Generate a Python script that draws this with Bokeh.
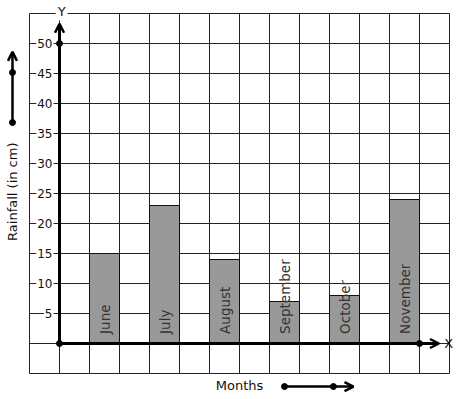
import math
from bokeh.plotting import figure
from bokeh.models import Range1d, Arrow, OpenHead, ColumnDataSource
from bokeh.core.properties import value
from bokeh.embed import file_html
from bokeh.resources import INLINE

# ---- data ----
months = ["June", "July", "August", "September", "October", "November"]
rainfall = [15, 23, 14, 7, 8, 24]
ytick_values = [5, 10, 15, 20, 25, 30, 35, 40, 45, 50]
ytick_labels = ["5", "10", "15", "20", "25", "30", "35", "40", "45", "50"]
grid_x = list(range(-1, 14))          # vertical grid lines (one unit per column)
grid_y = list(range(-5, 56, 5))       # horizontal grid lines (cm)

W, H = 457, 399
X0, Y0 = 59.0, 343.0                  # pixel position of the origin
FONT = value("DejaVu Sans")

p = figure(width=W, height=H, output_backend="svg", toolbar_location=None,
           x_range=Range1d(-X0 / 30.0, (W - X0) / 30.0),
           y_range=Range1d((Y0 - H) / 6.0, Y0 / 6.0),
           min_border=0, outline_line_color=None)
p.axis.visible = False
p.grid.visible = False
p.background_fill_color = "white"

# grid
gx0, gx1 = grid_x[0], grid_x[-1]
gy0, gy1 = grid_y[0], grid_y[-1]
p.segment(x0=grid_x, y0=[gy0] * len(grid_x), x1=grid_x, y1=[gy1] * len(grid_x),
          line_color="#222222", line_width=1)
p.segment(x0=[gx0] * len(grid_y), y0=grid_y, x1=[gx1] * len(grid_y), y1=grid_y,
          line_color="#222222", line_width=1)

# bars
centers = [1.5 + 2 * i for i in range(len(months))]
src = ColumnDataSource(dict(x=centers, top=rainfall, name=months))
p.vbar(x="x", top="top", bottom=0, width=1, source=src,
       fill_color="#999999", line_color="#111111", line_width=1)
p.text(x="x", y=1.6, text="name", source=src, angle=math.pi / 2,
       text_align="left", text_baseline="middle", text_font=FONT,
       text_font_size="13.5px", text_color="#333333")

# axes lines
p.add_layout(Arrow(end=OpenHead(size=9, line_width=2.5, line_color="black"),
                   x_start=0, y_start=0, x_end=0, y_end=53.3,
                   line_width=3, line_color="black"))
p.add_layout(Arrow(end=OpenHead(size=9, line_width=2.5, line_color="black"),
                   x_start=0, y_start=0, x_end=12.65, y_end=0,
                   line_width=3, line_color="black"))
p.scatter(x=[0, 0, 12], y=[0, 50, 0], size=6, color="black")

# y tick labels
p.text(x=[-0.2] * len(ytick_values), y=ytick_values, text=ytick_labels,
       text_align="right", text_baseline="middle", text_font=FONT,
       text_font_size="12px", text_color="#111111",
       background_fill_color="white", padding=1)

# axis letters
p.text(x=[0.07], y=[55.4], text=["Y"], text_align="center", text_baseline="middle",
       text_font=FONT, text_font_size="13px", text_color="#111111",
       background_fill_color="white", padding=2)
p.text(x=[12.97], y=[0.05], text=["X"], text_align="center", text_baseline="middle",
       text_font=FONT, text_font_size="13px", text_color="#111111")

# axis titles
p.text(x=[-1.57], y=[25.3], text=["Rainfall (in cm)"], angle=math.pi / 2,
       text_align="center", text_baseline="middle", text_font=FONT,
       text_font_size="13px", text_color="#111111")
p.text(x=[6.0], y=[-7.05], text=["Months"], text_align="center", text_baseline="middle",
       text_font=FONT, text_font_size="13px", text_color="#111111")

# decorative direction arrows
p.add_layout(Arrow(end=OpenHead(size=9, line_width=2.5, line_color="black"),
                   x_start=-1.567, y_start=36.83, x_end=-1.567, y_end=48.6,
                   line_width=2.5, line_color="black"))
p.scatter(x=[-1.567, -1.567], y=[45.17, 36.83], size=6, color="black")
p.add_layout(Arrow(end=OpenHead(size=9, line_width=2.5, line_color="black"),
                   x_start=7.5, y_start=-7.17, x_end=9.8, y_end=-7.17,
                   line_width=2.5, line_color="black"))
p.scatter(x=[7.5, 9.13], y=[-7.17, -7.17], size=6, color="black")

open("out.html", "w").write(file_html(p, INLINE))
